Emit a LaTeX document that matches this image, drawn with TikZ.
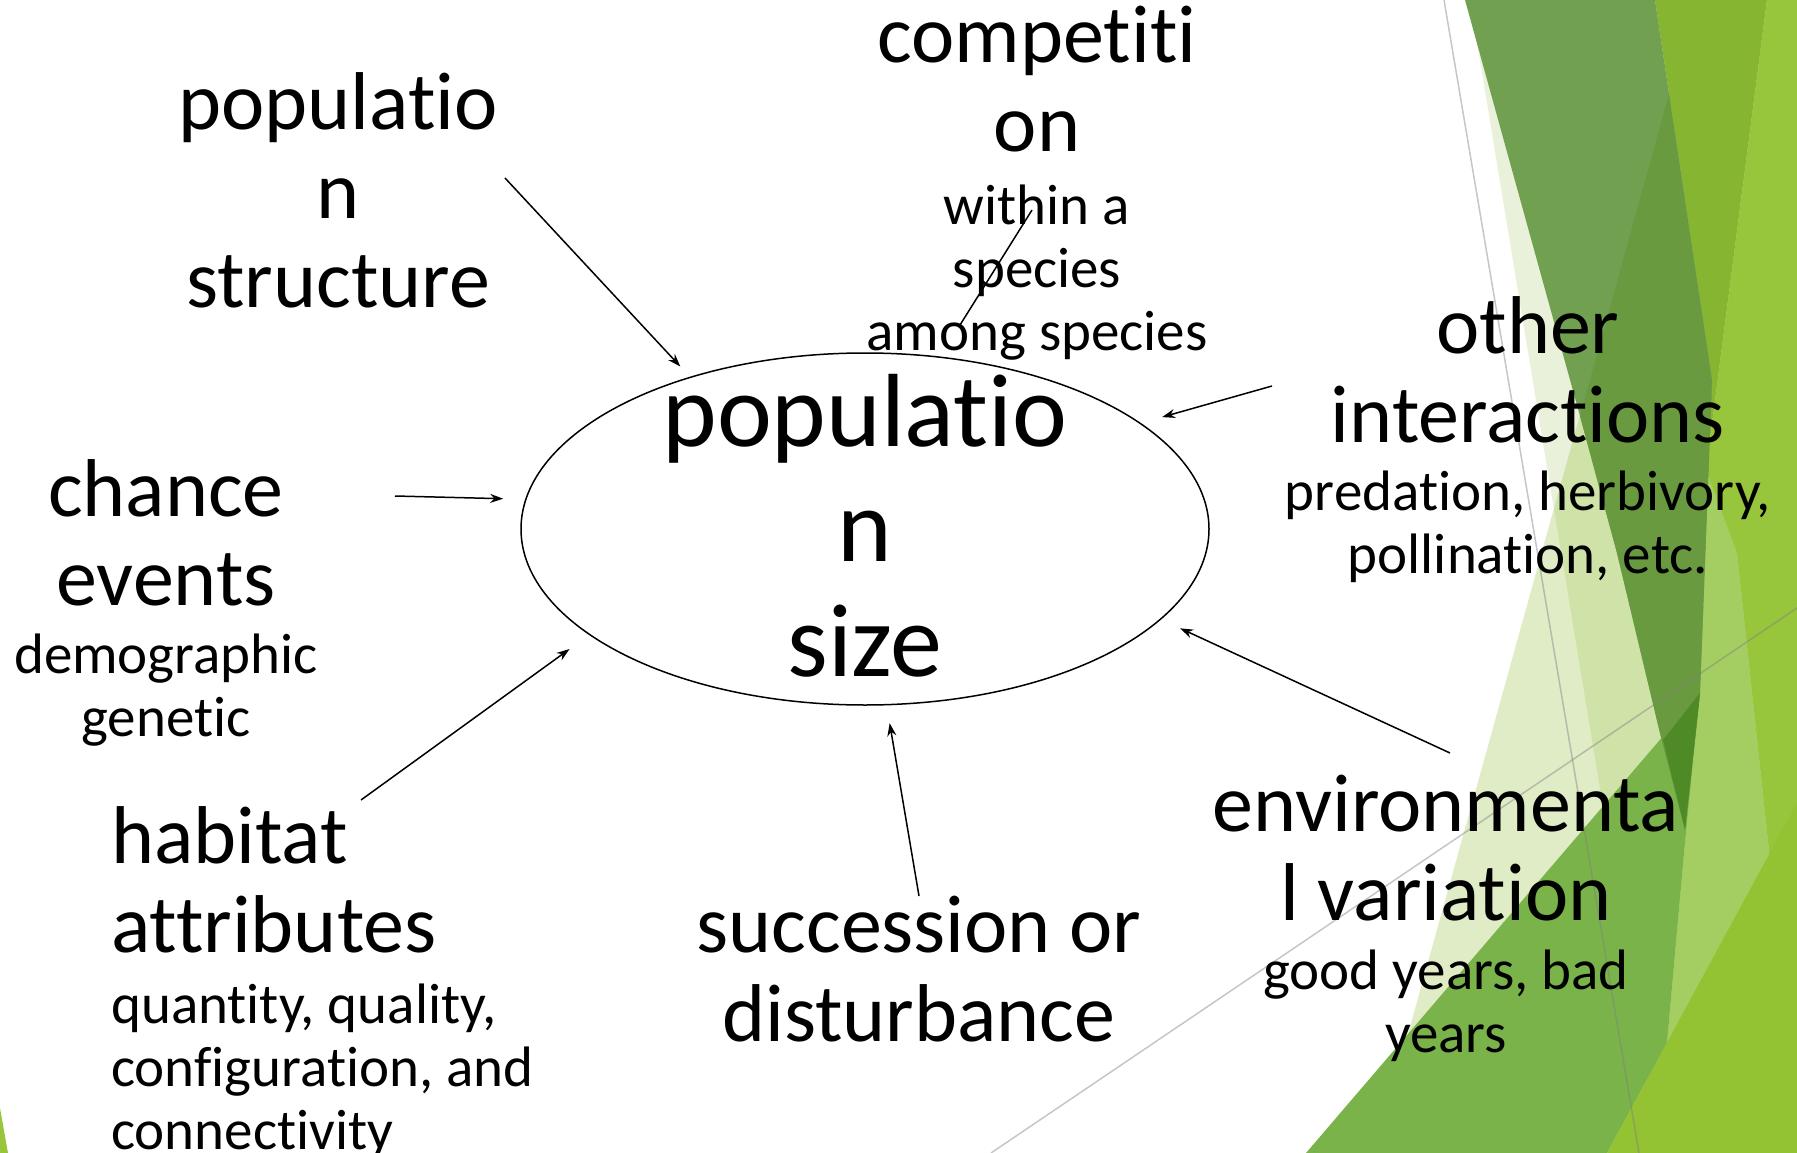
\documentclass[tikz,border=0pt]{standalone}
\usepackage{fontspec}
\setmainfont{Carlito}[Ligatures=NoCommon]
\usetikzlibrary{arrows.meta,shapes.geometric}
\definecolor{facetpale}{HTML}{E9F1DA}
\definecolor{facetlight}{HTML}{DFECC6}
\definecolor{facetmix}{HTML}{CFE3A8}
\definecolor{facetwedge}{HTML}{A4CE62}
\definecolor{facetmid}{HTML}{79B34A}
\definecolor{facetolive}{HTML}{86B531}
\definecolor{facetlime}{HTML}{97C53C}
\definecolor{facetdark}{HTML}{71A050}
\definecolor{facetdeep}{HTML}{6A9A3F}
\definecolor{facetdeepest}{HTML}{4E8A25}
\definecolor{facetyellow}{HTML}{93C232}
\tikzset{
  big/.style={font=\fontsize{82}{89}\selectfont, inner sep=0pt, align=center, anchor=base},
  small/.style={font=\fontsize{57}{63}\selectfont, inner sep=0pt, align=center, anchor=base},
  huge/.style={font=\fontsize{104}{115}\selectfont, inner sep=0pt, align=center, anchor=base},
  link/.style={-{Stealth[length=13pt,width=9pt]}, line width=1.5pt},
  facetline/.style={gray, line width=1.5pt, opacity=.45},
}
\begin{document}
\begin{tikzpicture}[x=1pt,y=-1pt]
\useasboundingbox (0,0) rectangle (1797,1153);
\clip (0,0) rectangle (1797,1153);

% facets on the right
\fill[facetpale] (1470,0) -- (1660,1153) -- (1797,1153) -- (1797,0) -- cycle;
\fill[facetlight] (1695,0) -- (1375,1153) -- (1797,1153) -- (1797,0) -- cycle;
\fill[facetmix] (1695,0) -- (1554,509) -- (1660,1153) -- (1797,1153) -- (1797,0) -- cycle;
\fill[facetwedge] (1712,380) -- (1706,470) -- (1737,553) -- (1770,860) -- (1667,1043) -- (1684,853) -- (1700,693) -- cycle;
\fill[facetmid] (1306,1153) -- (1700,693) -- (1684,853) -- (1667,1043) -- (1607,1153) -- cycle;
\fill[facetolive] (1655,0) -- (1767,0) -- (1706,470) -- (1712,380) -- cycle;
\fill[facetlime] (1767,0) -- (1797,0) -- (1797,1153) -- (1770,860) -- (1737,553) -- (1706,470) -- cycle;
\fill[facetdark] (1465,0) -- (1655,0) -- (1712,380) -- (1700,693) -- (1685,830) -- (1660,733) -- (1617,553) -- (1580,416) -- cycle;
\fill[facetdeep] (1669,94) -- (1712,380) -- (1700,693) -- (1685,830) -- (1660,733) -- (1617,553) -- (1580,416) -- cycle;
\fill[facetdeepest] (1700,693) -- (1685,830) -- (1663,740) -- cycle;
\fill[facetyellow] (1607,1153) -- (1797,803) -- (1797,1153) -- cycle;
\fill[facetlime] (0,1108) -- (8,1153) -- (0,1153) -- cycle;
\draw[facetline] (1444,0) -- (1639,1153);
\draw[facetline] (991,1153) -- (1797,608);

% centre
\node[ellipse, draw, line width=1.5pt, minimum width=688pt, minimum height=352pt, inner sep=0pt] (size) at (865,529) {};
\node[huge] (size-text) at (865,676) {populatio\\n\\size};

% factors (anchored at the last line)
\node[big] (struct) at (338,307) {populatio\\n\\structure};
\node[big] (compet) at (1037,152) {competiti\\on};
\node[small] (compet-sub) at (1037,350) {within a\\species\\among species};
\node[big] (other) at (1528,442) {other\\interactions};
\node[small] (other-sub) at (1528,573) {predation, herbivory,\\pollination, etc.};
\node[big] (chance) at (166,605) {chance\\events};
\node[small] (chance-sub) at (166,736) {demographic\\genetic};
\node[big, anchor=base west, align=left] (habitat) at (111,952) {habitat\\attributes};
\node[small, anchor=base west, align=left] (habitat-sub) at (111,1149) {quantity, quality,\\configuration, and\\connectivity};
\node[big] (success) at (919,1041) {succession or\\disturbance};
\node[big] (env) at (1446,920) {environmenta\\l variation};
\node[small] (env-sub) at (1446,1052) {good years, bad\\years};

% arrow tails
\coordinate (struct-tail) at (505,178);
\coordinate (chance-tail) at (395,496);
\coordinate (habitat-tail) at (361,800);
\coordinate (success-tail) at (919,896);
\coordinate (env-tail) at (1450,753);
\coordinate (other-tail) at (1272,386);
\coordinate (compet-a) at (1032,210);
\coordinate (compet-b) at (960,325);

\draw[link, shorten >=14pt] (struct-tail) -- (size.139);
\draw[link, shorten >=22pt] (chance-tail) -- (size.175);
\draw[link, shorten >=24pt] (habitat-tail) -- (size.201);
\draw[link, shorten >=18pt] (success-tail) -- (size.277);
\draw[link, shorten >=21pt] (env-tail) -- (size.343);
\draw[link, shorten >=22pt] (other-tail) -- (size.21);
\draw[line width=1.5pt] (compet-a) -- (compet-b);
\end{tikzpicture}
\end{document}
